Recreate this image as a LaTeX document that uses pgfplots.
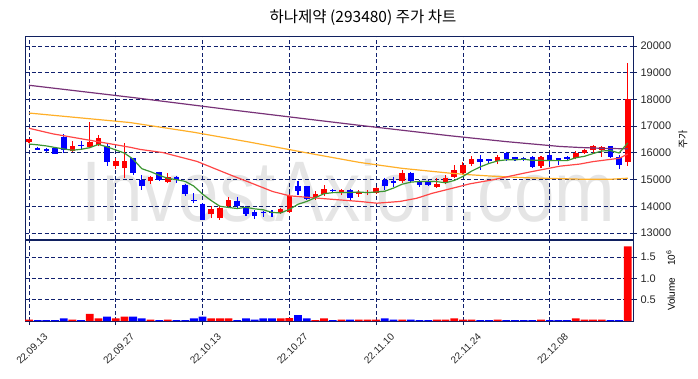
\documentclass[border=0pt]{standalone}
\usepackage{fontspec}
\setmainfont{Liberation Sans}
\newfontfamily\kr{Noto Sans CJK KR}
\usepackage{graphicx}
\usepackage{pgfplots}
\usepackage{pgfplotstable}
\pgfplotsset{compat=1.18}
\definecolor{framec}{RGB}{16,32,96}
\definecolor{gridc}{RGB}{16,32,110}
\definecolor{candr}{RGB}{255,0,0}
\definecolor{candb}{RGB}{0,0,255}
\definecolor{maG}{RGB}{60,150,50}
\definecolor{maR}{RGB}{255,70,70}
\definecolor{maO}{RGB}{255,175,40}
\definecolor{maP}{RGB}{120,50,120}

% red (up) candles: x, body, wick
\pgfplotstableread[row sep=\\]{
x b w\\
0 16400 16380\\ 0 16500 16520\\ 0 nan nan\\
5 16060 16030\\ 5 16260 16450\\ 5 nan nan\\
7 16210 16170\\ 7 16390 17150\\ 7 nan nan\\
8 16310 16240\\ 8 16560 16670\\ 8 nan nan\\
10 15490 15400\\ 10 15680 15820\\ 10 nan nan\\
11 15420 15050\\ 11 15680 16360\\ 11 nan nan\\
14 14930 14840\\ 14 15090 15140\\ 14 nan nan\\
16 14900 14870\\ 16 15110 15260\\ 16 nan nan\\
21 13700 13560\\ 21 13900 14000\\ 21 nan nan\\
22 13550 13500\\ 22 13940 14000\\ 22 nan nan\\
23 14010 13930\\ 23 14240 14340\\ 23 nan nan\\
29 13750 13720\\ 29 13900 13950\\ 29 nan nan\\
30 13780 13750\\ 30 14380 14450\\ 30 nan nan\\
33 14340 14250\\ 33 14460 14560\\ 33 nan nan\\
34 14460 14390\\ 34 14650 14800\\ 34 nan nan\\
36 14480 14420\\ 36 14610 14650\\ 36 nan nan\\
38 14460 14350\\ 38 14540 14610\\ 38 nan nan\\
39 14480 14420\\ 39 14540 14620\\ 39 nan nan\\
40 14510 14460\\ 40 14680 14720\\ 40 nan nan\\
43 14950 14870\\ 43 15260 15360\\ 43 nan nan\\
47 14740 14700\\ 47 14840 15060\\ 47 nan nan\\
48 14890 14840\\ 48 15050 15170\\ 48 nan nan\\
49 15110 15050\\ 49 15360 15550\\ 49 nan nan\\
50 15250 15200\\ 50 15550 15650\\ 50 nan nan\\
51 15580 15500\\ 51 15780 15870\\ 51 nan nan\\
54 15680 15580\\ 54 15840 15920\\ 54 nan nan\\
59 15490 15420\\ 59 15840 15900\\ 59 nan nan\\
63 15800 15760\\ 63 16010 16080\\ 63 nan nan\\
64 16010 15960\\ 64 16110 16150\\ 64 nan nan\\
65 16090 15960\\ 65 16240 16300\\ 65 nan nan\\
66 16100 15840\\ 66 16230 16270\\ 66 nan nan\\
69 15650 15520\\ 69 18000 19380\\ 69 nan nan\\
}\redc

% blue (down) candles: x, body, wick
\pgfplotstableread[row sep=\\]{
x b w\\
1 16200 16230\\ 1 16100 16100\\ 1 nan nan\\
2 16150 16170\\ 2 16080 16050\\ 2 nan nan\\
3 16200 16220\\ 3 15950 15950\\ 3 nan nan\\
4 16600 16700\\ 4 16100 16000\\ 4 nan nan\\
6 16300 16450\\ 6 16270 16100\\ 6 nan nan\\
9 16260 16360\\ 9 15640 15510\\ 9 nan nan\\
12 15800 15820\\ 12 15260 15170\\ 12 nan nan\\
13 15000 15180\\ 13 14770 14620\\ 13 nan nan\\
15 15270 15300\\ 15 15000 14930\\ 15 nan nan\\
17 15110 15130\\ 17 15000 14880\\ 17 nan nan\\
18 14800 14840\\ 18 14460 14390\\ 18 nan nan\\
19 14230 14490\\ 19 14200 14120\\ 19 nan nan\\
20 14100 14120\\ 20 13500 13480\\ 20 nan nan\\
24 14210 14350\\ 24 14000 13920\\ 24 nan nan\\
25 13950 14000\\ 25 13720 13650\\ 25 nan nan\\
26 13800 13860\\ 26 13620 13520\\ 26 nan nan\\
27 13800 13810\\ 27 13760 13580\\ 27 nan nan\\
28 13790 13850\\ 28 13750 13600\\ 28 nan nan\\
31 14770 14960\\ 31 14590 14430\\ 31 nan nan\\
32 14760 14760\\ 32 14280 14250\\ 32 nan nan\\
35 14610 14650\\ 35 14570 14520\\ 35 nan nan\\
37 14610 14640\\ 37 14300 14250\\ 37 nan nan\\
41 14990 15060\\ 41 14760 14620\\ 41 nan nan\\
42 14950 15110\\ 42 14890 14740\\ 42 nan nan\\
44 15260 15280\\ 44 14930 14900\\ 44 nan nan\\
45 14960 14990\\ 45 14800 14740\\ 45 nan nan\\
46 14950 14980\\ 46 14780 14760\\ 46 nan nan\\
52 15760 15920\\ 52 15640 15370\\ 52 nan nan\\
53 15760 15780\\ 53 15680 15620\\ 53 nan nan\\
55 15990 16050\\ 55 15760 15700\\ 55 nan nan\\
56 15840 15860\\ 56 15770 15690\\ 56 nan nan\\
57 15790 15850\\ 57 15760 15700\\ 57 nan nan\\
58 15840 15870\\ 58 15470 15420\\ 58 nan nan\\
60 15920 16000\\ 60 15720 15560\\ 60 nan nan\\
61 15800 15800\\ 61 15750 15560\\ 61 nan nan\\
62 15860 15890\\ 62 15760 15720\\ 62 nan nan\\
67 16240 16250\\ 67 15830 15800\\ 67 nan nan\\
68 15830 15920\\ 68 15560 15400\\ 68 nan nan\\
}\bluec

\pgfplotsset{
  mybase/.style={
    scale only axis, width=608pt, xmin=-0.46, xmax=69.6,
    axis line style={framec, line width=0.9pt},
    grid=major,
    major grid style={gridc, dash pattern=on 4pt off 2.5pt, line width=0.8pt},
    xtick={0,10,20,30,40,50,60},
    ytick pos=right, yticklabel pos=right,
    tick align=outside, major tick length=4pt,
    tick style={framec, line width=0.8pt},
    ticklabel style={font=\fontsize{11}{13}\selectfont, text=black!85},
    /pgf/number format/assume math mode=true,
  }
}

\begin{document}
\begin{tikzpicture}[x=1pt,y=1pt]
\useasboundingbox (0,0) rectangle (698,378);
\node[font={\kr\fontsize{15.5}{18}\selectfont}] at (363,360) {하나제약 (293480) 주가 차트};
\node[font=\fontsize{86}{86}\selectfont, text=black!10, xscale=0.845, anchor=base, inner sep=0pt] at (348.5,157) {InvestAxion.com};

\begin{axis}[mybase, at={(25pt,139pt)}, anchor=south west, height=203pt,
  ymin=12775, ymax=20374, ytick={13000,14000,...,20000},
  scaled y ticks=false,
  yticklabel style={/pgf/number format/fixed, /pgf/number format/1000 sep={}},
  xticklabels={}, xtick style={draw=none},
  ylabel={{\kr 주가}},
  every axis y label/.style={at={(axis description cs:1.082,0.49)}, rotate=90, anchor=center, font=\fontsize{10}{12}\selectfont},
]
\addplot[candr, line width=1.1pt, unbounded coords=jump] table[x=x,y=w]{\redc};
\addplot[candr, line width=5.6pt, unbounded coords=jump] table[x=x,y=b]{\redc};
\addplot[candb, line width=1.1pt, unbounded coords=jump] table[x=x,y=w]{\bluec};
\addplot[candb, line width=5.6pt, unbounded coords=jump] table[x=x,y=b]{\bluec};

% 120-day MA
\addplot[maP, line width=1.2pt] coordinates {(0,18530) (12,18070) (24.3,17570) (32.7,17240) (38.1,17030) (48.5,16640) (55,16420) (61.15,16240) (63.5,16200) (66,16170) (69,16150)};
% 60-day MA
\addplot[maO, line width=1.2pt] coordinates {(0,17490) (11.63,17135) (19,16770) (25.45,16400) (32,16000) (38.12,15640) (43,15420) (48.49,15240) (50.79,15180) (54.24,15110) (58,15060) (63.46,15015) (66.9,15010) (69,15050)};
% 20-day MA
\addplot[maR, line width=1.2pt] coordinates {(0,16920) (2.76,16710) (6.68,16490) (8.98,16360) (11.63,16210) (12.78,16130) (15.43,16010) (19.35,15680) (23.15,15180) (25.45,14890) (28.1,14550) (30.06,14390) (34.55,14270) (38.12,14180) (40.08,14115) (42.73,14180) (44.68,14300) (46.5,14490) (48.49,14650) (50.79,14840) (53.44,14990) (57.35,15260) (61.15,15500) (63.46,15580) (64.95,15670) (68.06,15800) (69,15960)};
% 5-day MA
\addplot[maG, line width=1.2pt] coordinates {(0,16330) (1,16300) (2,16260) (3,16200) (4,16146) (5,16098) (6,16132) (7,16194) (8,16316) (9,16224) (10,16108) (11,15990) (12,15764) (13,15406) (14,15296) (15,15160) (16,15046) (17,14994) (18,14932) (19,14754) (20,14454) (21,14212) (22,14000) (23,13956) (24,13916) (25,13960) (26,13904) (27,13868) (28,13770) (29,13750) (30,13882) (31,14076) (32,14180) (33,14322) (34,14472) (35,14510) (36,14514) (37,14518) (38,14534) (39,14512) (40,14534) (41,14564) (42,14682) (43,14826) (44,14904) (45,14928) (46,14932) (47,14922) (48,14880) (49,14966) (50,15116) (51,15316) (52,15476) (53,15602) (54,15698) (55,15740) (56,15738) (57,15762) (58,15720) (59,15720) (60,15712) (61,15708) (62,15708) (63,15816) (64,15870) (65,15974) (66,16070) (67,16084) (68,15994) (69,16372)};
\end{axis}

\begin{axis}[mybase, at={(25pt,57pt)}, anchor=south west, height=81pt,
  ymin=0, ymax=1.9, ytick={0.5,1,1.5}, yticklabels={0.5,1.0,1.5},
  xtick pos=bottom,
  xticklabels={\rotatebox{45}{22.09.13},\rotatebox{45}{22.09.27},\rotatebox{45}{22.10.13},\rotatebox{45}{22.10.27},\rotatebox{45}{22.11.10},\rotatebox{45}{22.11.24},\rotatebox{45}{22.12.08}},
  xticklabel style={anchor=north, font=\fontsize{10}{12}\selectfont, yshift=-4pt, xshift=3pt},
  ylabel={Volume\hspace{12pt}10\textsuperscript{6}},
  every axis y label/.style={at={(axis description cs:1.062,0.5)}, rotate=90, anchor=center, font=\fontsize{10}{12}\selectfont},
]
\addplot[ybar, bar width=7.8pt, bar shift=0pt, fill=candr, draw=none] table[row sep=\\]{
x v\\ 0 0.03\\ 5 0.03\\ 7 0.17\\ 8 0.063\\ 10 0.063\\ 11 0.105\\ 14 0.03\\ 16 0.03\\ 21 0.063\\ 22 0.063\\ 23 0.063\\ 29 0.063\\ 30 0.07\\ 33 0.02\\ 34 0.063\\ 36 0.03\\ 38 0.03\\ 39 0.03\\ 40 0.03\\ 43 0.03\\ 47 0.03\\ 48 0.03\\ 49 0.063\\ 50 0.03\\ 51 0.03\\ 54 0.03\\ 59 0.03\\ 63 0.063\\ 64 0.03\\ 65 0.03\\ 66 0.03\\ 69 1.75\\
};
\addplot[ybar, bar width=7.8pt, bar shift=0pt, fill=candb, draw=none] table[row sep=\\]{
x v\\ 1 0.02\\ 2 0.02\\ 3 0.02\\ 4 0.063\\ 6 0.02\\ 9 0.105\\ 12 0.105\\ 13 0.063\\ 15 0.02\\ 17 0.02\\ 18 0.02\\ 19 0.063\\ 20 0.105\\ 24 0.02\\ 25 0.063\\ 26 0.03\\ 27 0.063\\ 28 0.063\\ 31 0.135\\ 32 0.063\\ 35 0.02\\ 37 0.03\\ 41 0.063\\ 42 0.03\\ 44 0.03\\ 45 0.02\\ 46 0.02\\ 52 0.02\\ 53 0.02\\ 55 0.02\\ 56 0.02\\ 57 0.02\\ 58 0.02\\ 60 0.02\\ 61 0.02\\ 62 0.02\\ 67 0.02\\ 68 0.02\\
};
\end{axis}
\end{tikzpicture}
\end{document}
